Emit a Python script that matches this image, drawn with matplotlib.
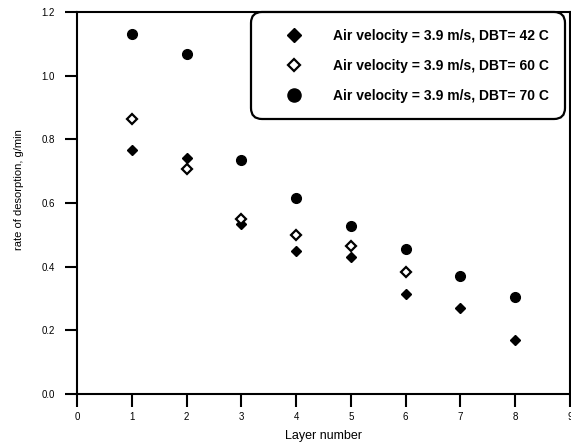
import matplotlib.pyplot as plt

plt.rcParams['font.family'] = ['Liberation Sans', 'DejaVu Sans']

layers_42 = [1, 2, 3, 4, 5, 6, 7, 8]
rate_42 = [0.766, 0.740, 0.535, 0.449, 0.431, 0.313, 0.270, 0.170]

layers_60 = [1, 2, 3, 4, 5, 6]
rate_60 = [0.863, 0.706, 0.550, 0.499, 0.465, 0.382]

layers_70 = [1, 2, 3, 4, 5, 6, 7, 8]
rate_70 = [1.131, 1.069, 0.734, 0.615, 0.527, 0.455, 0.370, 0.304]

labels = ['Air velocity = 3.9 m/s, DBT= 42 C',
          'Air velocity = 3.9 m/s, DBT= 60 C',
          'Air velocity = 3.9 m/s, DBT= 70 C']

fig = plt.figure(figsize=(5.71, 4.42), dpi=100)
ax = fig.add_axes([77 / 571, 1 - 394 / 442, 493 / 571, 382 / 442])

ax.plot(layers_42, rate_42, linestyle='none', marker='D', ms=5.2,
        color='black', label=labels[0])
ax.plot(layers_60, rate_60, linestyle='none', marker='D', ms=4.6,
        markerfacecolor='white', markeredgecolor='black', markeredgewidth=1.6,
        label=labels[1])
ax.plot(layers_70, rate_70, linestyle='none', marker='o', ms=7,
        color='black', label=labels[2])

ax.set_xlim(0, 9)
ax.set_ylim(0, 1.2)
ax.set_xticks(range(0, 10))
ax.set_yticks([0.0, 0.2, 0.4, 0.6, 0.8, 1.0, 1.2])
ax.set_yticklabels(['0.0', '0.2', '0.4', '0.6', '0.8', '1.0', '1.2'])
ax.tick_params(direction='out', length=9, width=1.5, labelsize=7)
ax.tick_params(axis='x', pad=4)
ax.tick_params(axis='y', pad=7)

for s in ax.spines.values():
    s.set_linewidth(1.5)

ax.set_xlabel('Layer number', fontsize=9, labelpad=6)
ax.set_ylabel('rate of desorption, g/min', fontsize=8)
ax.yaxis.set_label_coords(-0.108, 0.534)

leg = ax.legend(loc='upper right', bbox_to_anchor=(0.99, 1.0), borderaxespad=0,
                prop={'weight': 'bold', 'size': 10}, numpoints=1,
                markerscale=1.35, handlelength=3.8, handletextpad=0.9,
                labelspacing=1.15, borderpad=1.2, fancybox=True,
                framealpha=1, edgecolor='black')
leg.get_frame().set_linewidth(1.6)
leg.get_frame().set_boxstyle('round', pad=0, rounding_size=0.8)

fig.savefig('out.png', dpi=100)
